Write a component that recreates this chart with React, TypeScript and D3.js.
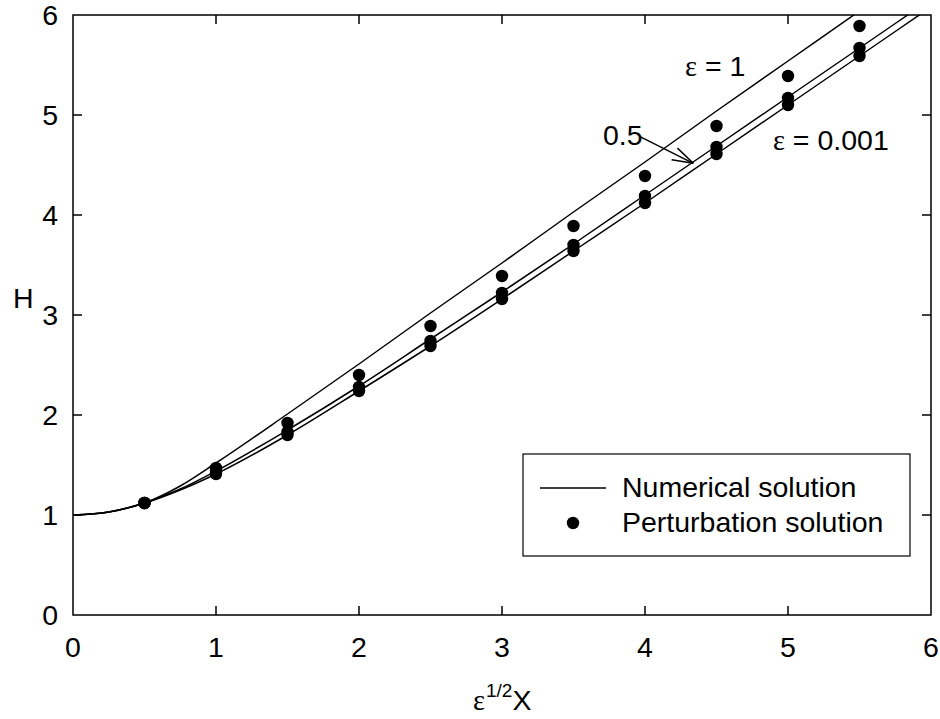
import React from "react";
import * as d3 from "d3";

// numerical solution curves, H vs eps^(1/2) X
const xNum = [0, 0.25, 0.5, 0.75, 1, 1.5, 2, 2.5, 3, 3.5, 4, 4.5, 5, 5.5, 6];
const hNum1 = [1, 1.03, 1.12, 1.29, 1.52, 2.01, 2.51, 3.02, 3.52, 4.03, 4.53, 5.04, 5.54, 6.04, 6.55];
const hNum05 = [1, 1.03, 1.12, 1.26, 1.44, 1.85, 2.29, 2.76, 3.23, 3.71, 4.2, 4.69, 5.18, 5.67, 6.16];
const hNum001 = [1, 1.03, 1.12, 1.25, 1.41, 1.8, 2.24, 2.69, 3.16, 3.64, 4.12, 4.61, 5.1, 5.59, 6.08];

// perturbation solution points
const xPts = [0.5, 1, 1.5, 2, 2.5, 3, 3.5, 4, 4.5, 5, 5.5];
const hPts1 = [1.12, 1.47, 1.92, 2.4, 2.89, 3.39, 3.89, 4.39, 4.89, 5.39, 5.89];
const hPts05 = [1.12, 1.44, 1.83, 2.28, 2.74, 3.22, 3.7, 4.19, 4.68, 5.17, 5.67];
const hPts001 = [1.12, 1.41, 1.8, 2.24, 2.69, 3.16, 3.64, 4.12, 4.61, 5.1, 5.59];

const xTicks = [0, 1, 2, 3, 4, 5, 6];
const yTicks = [0, 1, 2, 3, 4, 5, 6];

const W = 940,
  H = 719,
  margin = { top: 15, right: 9, bottom: 104, left: 73 };

const font = "'Liberation Sans', Arial, sans-serif";
const greek = "'Liberation Serif', 'Times New Roman', serif";

export default function App() {
  const width = W - margin.left - margin.right,
    height = H - margin.top - margin.bottom;

  const x = d3.scaleLinear().domain([0, 6]).range([0, width]);
  const y = d3.scaleLinear().domain([0, 6]).range([height, 0]);

  const line = d3
    .line<number>()
    .x((d, i) => x(xNum[i]))
    .y(d => y(d))
    .curve(d3.curveMonotoneX);

  const curves = [hNum1, hNum05, hNum001].map((s, i) => (
    <path key={i} d={line(s) || ""} fill="none" stroke="#000" strokeWidth={1.5} clipPath="url(#plot)" />
  ));

  const dots = [hPts1, hPts05, hPts001].map((s, j) =>
    s.map((v, i) => <circle key={j + "-" + i} cx={x(xPts[i])} cy={y(v)} r={6.2} fill="#000" />)
  );

  const tickLen = 9;
  const ticks = (
    <g stroke="#000" strokeWidth={1.5}>
      {xTicks.slice(1, -1).map(t => (
        <g key={"x" + t}>
          <line x1={x(t)} x2={x(t)} y1={height} y2={height - tickLen} />
          <line x1={x(t)} x2={x(t)} y1={0} y2={tickLen} />
        </g>
      ))}
      {yTicks.slice(1, -1).map(t => (
        <g key={"y" + t}>
          <line x1={0} x2={tickLen} y1={y(t)} y2={y(t)} />
          <line x1={width} x2={width - tickLen} y1={y(t)} y2={y(t)} />
        </g>
      ))}
    </g>
  );

  const xLabels = xTicks.map(t => (
    <text key={t} x={x(t)} y={height + 42} textAnchor="middle">
      {t}
    </text>
  ));
  const yLabels = yTicks.map(t => (
    <text key={t} x={-15} y={y(t) + 10} textAnchor="end">
      {t}
    </text>
  ));

  // arrow for the 0.5 label
  const a0 = [x(3.965), y(4.783)],
    a1 = [x(4.338), y(4.517)];
  const ang = Math.atan2(a1[1] - a0[1], a1[0] - a0[0]);
  const head = [ang + 0.3, ang - 0.3].map(a => [a1[0] - 22 * Math.cos(a), a1[1] - 22 * Math.sin(a)]);

  // legend
  const lg = { x: 523 - margin.left, y: 454 - margin.top, w: 387, h: 102 };

  return (
    <div style={{ position: "absolute", left: 0, top: 0 }}>
      <svg width={W} height={H} style={{ display: "block", background: "#fff" }}>
        <defs>
          <clipPath id="plot">
            <rect x={0} y={0} width={width} height={height} />
          </clipPath>
        </defs>
        <g transform={`translate(${margin.left},${margin.top})`} fontFamily={font} fontSize={28.5} fill="#000">
          {curves}
          {dots}
          <rect x={0} y={0} width={width} height={height} fill="none" stroke="#000" strokeWidth={1.5} />
          {ticks}
          {xLabels}
          {yLabels}

          {/* annotations */}
          <text x={x(4.28)} y={y(5.39)}>
            <tspan fontFamily={greek}>ε</tspan> = 1
          </text>
          <text x={x(4.895)} y={y(4.65)}>
            <tspan fontFamily={greek}>ε</tspan> = 0.001
          </text>
          <text x={x(3.706)} y={y(4.7)}>0.5</text>
          <g stroke="#000" strokeWidth={1.5} fill="none">
            <line x1={a0[0]} y1={a0[1]} x2={a1[0]} y2={a1[1]} />
            <line x1={a1[0]} y1={a1[1]} x2={head[0][0]} y2={head[0][1]} />
            <line x1={a1[0]} y1={a1[1]} x2={head[1][0]} y2={head[1][1]} />
          </g>

          {/* legend */}
          <rect x={lg.x} y={lg.y} width={lg.w} height={lg.h} fill="#fff" stroke="#000" strokeWidth={1.2} />
          <line x1={lg.x + 17} x2={lg.x + 83} y1={lg.y + 34} y2={lg.y + 34} stroke="#000" strokeWidth={1.5} />
          <text x={lg.x + 99} y={lg.y + 43}>Numerical solution</text>
          <circle cx={lg.x + 50} cy={lg.y + 69} r={6.2} fill="#000" />
          <text x={lg.x + 99} y={lg.y + 78}>Perturbation solution</text>

          {/* axis titles */}
          <text x={-60} y={308 - margin.top}>H</text>
          <text x={473 - margin.left} y={710 - margin.top}>
            <tspan fontFamily={greek}>ε</tspan>
            <tspan fontSize={19} dy={-13} dx={1}>1/2</tspan>
            <tspan dy={13}>X</tspan>
          </text>
        </g>
      </svg>
    </div>
  );
}
